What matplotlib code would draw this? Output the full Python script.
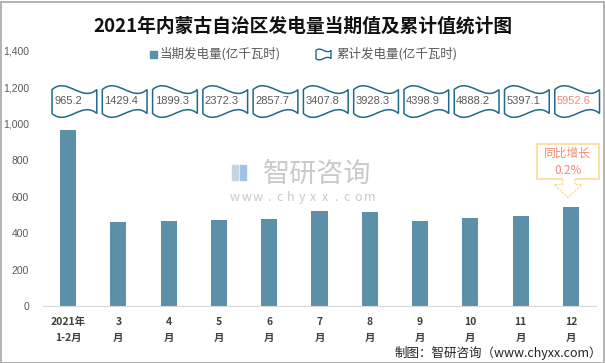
import matplotlib.pyplot as plt
from matplotlib.patches import PathPatch, Rectangle, Polygon
from matplotlib.path import Path

plt.rcParams['font.family'] = ['Noto Sans CJK SC', 'DejaVu Sans']

# data
categories = ["2021年\n1-2月", "3\n月", "4\n月", "5\n月", "6\n月", "7\n月",
              "8\n月", "9\n月", "10\n月", "11\n月", "12\n月"]
current = [965.2, 463, 469, 474, 480, 524, 518, 469, 485, 496, 546]
cumulative = ["965.2", "1429.4", "1899.3", "2372.3", "2857.7", "3407.8",
              "3928.3", "4398.9", "4888.2", "5397.1", "5952.6"]
yoy_text = "同比增长\n0.2%"
yticks = [0, 200, 400, 600, 800, 1000, 1200, 1400]

bar_color = "#5B90A8"
wave_edge = "#1F6A8A"
salmon = "#F28A72"


def wave_path(x0, x1, y0, y1):
    # excel "wave" shape: top and bottom edges are bezier waves
    h = y1 - y0
    dy = 0.125 * h
    k = dy * 10 / 3
    w = x1 - x0
    top = y1 - dy
    bot = y0 + dy
    verts = [(x0, top), (x0 + w / 3, top + k), (x0 + 2 * w / 3, top - k), (x1, top),
             (x1, bot), (x0 + 2 * w / 3, bot + k), (x0 + w / 3, bot - k), (x0, bot),
             (x0, top)]
    codes = [Path.MOVETO, Path.CURVE4, Path.CURVE4, Path.CURVE4,
             Path.LINETO, Path.CURVE4, Path.CURVE4, Path.CURVE4, Path.CLOSEPOLY]
    return Path(verts, codes)


fig = plt.figure(figsize=(6.05, 3.63), dpi=100)
ax = fig.add_axes([43 / 605, 1 - 306 / 363, 553 / 605, 255 / 363])

x = list(range(len(categories)))
ax.bar(x, current, width=0.32, color=bar_color, zorder=2)

ax.set_xlim(-0.5, len(categories) - 0.5)
ax.set_ylim(0, 1400)
ax.set_yticks(yticks)
ax.set_yticklabels([f"{v:,}" for v in yticks], color="#595959", fontsize=7.5,
                   family=["Liberation Sans", "DejaVu Sans"])
ax.set_xticks(x)
ax.set_xticklabels(categories, fontsize=7.5, fontweight="bold", color="#404040",
                   linespacing=1.75)
ax.tick_params(length=0)
ax.tick_params(axis="x", pad=8)
ax.tick_params(axis="y", pad=10)
for s in ["top", "left", "right"]:
    ax.spines[s].set_visible(False)
ax.spines["bottom"].set_color("#D9D9D9")

# cumulative wave boxes
for i, txt in enumerate(cumulative):
    p = wave_path(i - 0.32, i + 0.57, 1035, 1210)
    ax.add_patch(PathPatch(p, facecolor="white", edgecolor=wave_edge, lw=1.1,
                           zorder=3, clip_on=False))
    ax.text(i - 0.28, 1128, txt, ha="left", va="center", fontsize=8,
            color=salmon if i == len(cumulative) - 1 else "#595959",
            family=["Liberation Sans", "DejaVu Sans"], zorder=4)

# yoy callout above last bar
xl = len(current) - 1
yb = current[-1]
bx0, bx1 = xl - 0.67, xl + 0.55
by0, by1 = yb + 149, yb + 342
nx0, nx1 = xl - 0.16, xl + 0.08
ax.add_patch(Polygon([(nx0, by0), (bx0, by0), (bx0, by1), (bx1, by1), (bx1, by0),
                      (nx1, by0)], closed=False, fill=False, edgecolor="#FAD98A",
                     lw=1.1, clip_on=False, zorder=3))
ax.add_patch(Polygon([(nx0, by0), (nx0, by0 - 28), (xl - 0.33, by0 - 28),
                      (xl - 0.06, yb + 49), (xl + 0.22, by0 - 28),
                      (nx1, by0 - 28), (nx1, by0)], closed=False, fill=False,
                     edgecolor="#FAD98A", lw=1.0, ls=(0, (1.5, 1)), clip_on=False,
                     zorder=3))
ax.text((bx0 + bx1) / 2, (by0 + by1) / 2, yoy_text, ha="center", va="center",
        fontsize=8.5, color=salmon, linespacing=1.5, zorder=4)

# title
fig.text(0.5, 1 - 26 / 363, "2021年内蒙古自治区发电量当期值及累计值统计图",
         ha="center", va="center", fontsize=13.5, fontweight="bold", color="#111111")

# legend
fig.patches.append(Rectangle((150 / 605, 1 - 58 / 363), 7 / 605, 7 / 363,
                             transform=fig.transFigure, color=bar_color))
fig.text(160 / 605, 1 - 54 / 363, "当期发电量(亿千瓦时)", ha="left", va="center",
         fontsize=9, color="#595959")
lp = wave_path(316 / 605, 331 / 605, 1 - 60 / 363, 1 - 49 / 363)
fig.patches.append(PathPatch(lp, transform=fig.transFigure, facecolor="white",
                             edgecolor=wave_edge, lw=1.0))
fig.text(336 / 605, 1 - 54 / 363, "累计发电量(亿千瓦时)", ha="left", va="center",
         fontsize=9, color="#595959")

# watermark
wm = "#C9C9C9"
fig.patches.append(Rectangle((232 / 605, 1 - 180 / 363), 6 / 605, 15 / 363,
                             transform=fig.transFigure, color="#C5D3E6", zorder=5))
fig.patches.append(Rectangle((240 / 605, 1 - 180 / 363), 6 / 605, 15 / 363,
                             transform=fig.transFigure, color="#9FC3E4", zorder=5))
fig.text(263 / 605, 1 - 174 / 363, "智研咨询", ha="left", va="center",
         fontsize=19.5, color=wm, zorder=5)
for j, ch in enumerate("www.chyxx.com"):
    fig.text((235 + j * 11.2) / 605, 1 - 197 / 363, ch, ha="center", va="center",
             fontsize=9, color=wm, zorder=5)

# source
fig.text(1 - 3 / 605, 1 - 353 / 363, "制图：智研咨询（www.chyxx.com）", ha="right",
         va="center", fontsize=9, color="#222222")

# border
fig.patches.append(Rectangle((0.5 / 605, 0.5 / 363), 603 / 605, 361 / 363,
                             transform=fig.transFigure, fill=False,
                             edgecolor="#A6A6A6", lw=1.2))

fig.savefig("out.png", dpi=100)
